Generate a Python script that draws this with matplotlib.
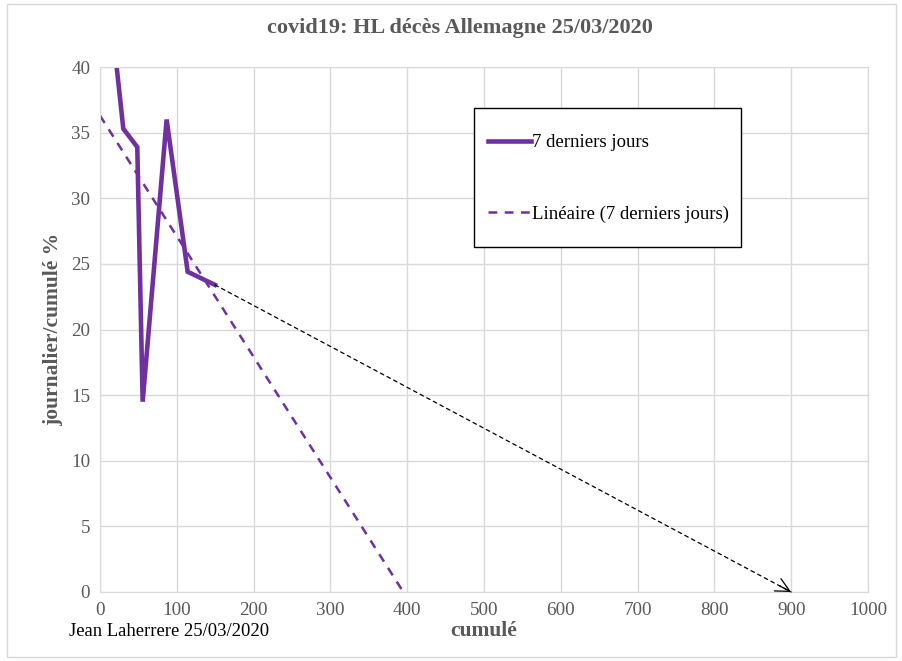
import matplotlib
matplotlib.use("Agg")
import matplotlib.pyplot as plt
from matplotlib.patches import Rectangle

# cumulé / journalier-cumulé % (7 derniers jours)
cumule = [19, 30.4, 48.6, 55.6, 86.8, 114.2, 149.7]
pct = [41.5, 35.3, 33.9, 14.5, 36.0, 24.4, 23.4]

# tendance linéaire
trend_x = [0, 395]
trend_y = [36.3, 0]

# flèche d'extrapolation
arrow_start = (149.7, 23.4)
arrow_end = (900, 0)

purple = "#7030A0"
grey = "#595959"
plt.rcParams['font.family'] = ['Liberation Serif', 'DejaVu Serif']

fig = plt.figure(figsize=(9.03, 6.61), dpi=100)
fig.patches.append(Rectangle((0.008, 0.006), 0.984, 0.988, transform=fig.transFigure,
                             fill=False, edgecolor="#d9d9d9", linewidth=1))
ax = fig.add_axes([0.1107, 0.1044, 0.8505, 0.7942])

ax.plot(cumule, pct, color=purple, linewidth=3.3, label="7 derniers jours",
        solid_joinstyle="miter")
ax.plot(trend_x, trend_y, color=purple, linewidth=1.8, linestyle=(0, (3.5, 3)),
        label="Linéaire (7 derniers jours)")

# ligne pointillée + pointe pleine
ax.annotate("", xy=arrow_end, xytext=arrow_start,
            arrowprops=dict(arrowstyle="-", color="black", linestyle=(0, (3, 3)),
                            linewidth=0.9, shrinkA=0, shrinkB=0))
near_end = (arrow_start[0] + 0.98 * (arrow_end[0] - arrow_start[0]),
            arrow_start[1] + 0.98 * (arrow_end[1] - arrow_start[1]))
ax.annotate("", xy=arrow_end, xytext=near_end,
            arrowprops=dict(arrowstyle="->,head_length=0.5,head_width=0.25", color="black",
                            linewidth=0.9, mutation_scale=20, shrinkA=0, shrinkB=0))

ax.set_xlim(0, 1000)
ax.set_ylim(0, 40)
ax.set_xticks(range(0, 1001, 100))
ax.set_yticks(range(0, 41, 5))
ax.grid(True, color="#d9d9d9", linewidth=1)
ax.set_axisbelow(True)
for s in ax.spines.values():
    s.set_color("#d9d9d9")
ax.tick_params(length=0, labelsize=13.7, labelcolor=grey, pad=7)

fig.text(0.509, 0.958, "covid19: HL décès Allemagne 25/03/2020", fontsize=16,
         fontweight="bold", color=grey, ha="center", va="center")
ax.set_xlabel("cumulé", fontsize=15.5, fontweight="bold", color=grey, labelpad=2)
ax.set_ylabel("journalier/cumulé %", fontsize=15.5, fontweight="bold", color=grey, labelpad=6)

fig.text(0.076, 0.044, "Jean Laherrere 25/03/2020", fontsize=13.4, color="black",
         va="center")

# cadre de la légende
ax.add_patch(Rectangle((0.487, 0.657), 0.348, 0.265, transform=ax.transAxes,
                       facecolor="white", edgecolor="black", linewidth=1, zorder=4))
leg = ax.legend(loc="upper left", bbox_to_anchor=(0.505, 0.872), frameon=False,
                fontsize=13.5, handlelength=2.3, handletextpad=0.05,
                labelspacing=2.88, borderpad=0, borderaxespad=0)
leg.set_zorder(5)
for t in leg.get_texts():
    t.set_color("black")

fig.savefig("out.png", dpi=100)
